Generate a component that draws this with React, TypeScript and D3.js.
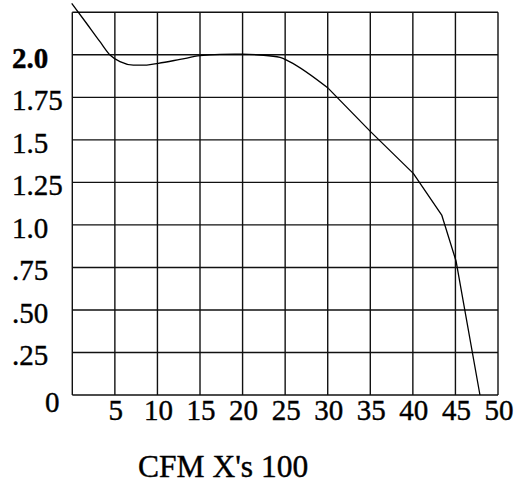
import React from "react";
import * as d3 from "d3";

const curveLeftX = [-0.07, 1.6, 3.25, 4.43, 5.6, 7.17, 8.74, 10.1, 12.65, 15.0, 17.35, 20, 22.05, 24.4, 25.5, 30.07];
const curveLeftY = [2.303, 2.19, 2.077, 1.999, 1.96, 1.94, 1.94, 1.95, 1.973, 1.995, 2.003, 2.004, 1.999, 1.985, 1.96, 1.803];
const curveRightX = [30.07, 35, 40.05, 43.39, 45.07, 47.88];
const curveRightY = [1.803, 1.55, 1.303, 1.058, 0.788, 0];

const xTicks = [5, 10, 15, 20, 25, 30, 35, 40, 45, 50];
const yTickValues = [2.0, 1.75, 1.5, 1.25, 1.0, 0.75, 0.5, 0.25];
const yTickLabels = ["2.0", "1.75", "1.5", "1.25", "1.0", ".75", ".50", ".25"];
const zeroLabel = "0";
const xGrid = [0, 5, 10, 15, 20, 25, 30, 35, 40, 45, 50];
const yGrid = [0, 0.25, 0.5, 0.75, 1.0, 1.25, 1.5, 1.75, 2.0, 2.25];
const title = "CFM X's 100";

export default function App() {
  const W = 519, H = 486;
  const x = d3.scaleLinear().domain([0, 50]).range([72.3, 498]);
  const y = d3.scaleLinear().domain([0, 2.25]).range([395, 12.3]);
  const left: [number, number][] = curveLeftX.map((v, i) => [v, curveLeftY[i]]);
  const right: [number, number][] = curveRightX.map((v, i) => [v, curveRightY[i]]);
  const smooth = d3
    .line<[number, number]>()
    .x((d) => x(d[0]))
    .y((d) => y(d[1]))
    .curve(d3.curveMonotoneX);
  const straight = d3
    .line<[number, number]>()
    .x((d) => x(d[0]))
    .y((d) => y(d[1]))
    .curve(d3.curveLinear);
  const font = "'Liberation Serif', 'Times New Roman', serif";
  return (
    <svg
      width={W}
      height={H}
      style={{ position: "absolute", left: 0, top: 0, background: "#fff" }}
    >
      <rect x={0} y={0} width={W} height={H} fill="#fff" />
      <g stroke="#111" strokeWidth={1.4} fill="none">
        {xGrid.map((v) => (
          <line key={"vx" + v} x1={x(v)} x2={x(v)} y1={y(2.25)} y2={y(0)} />
        ))}
        {yGrid.map((v) => (
          <line key={"hy" + v} x1={x(0)} x2={x(50)} y1={y(v)} y2={y(v)} />
        ))}
      </g>
      <path d={smooth(left) || ""} fill="none" stroke="#000" strokeWidth={1.3} />
      <path d={straight(right) || ""} fill="none" stroke="#000" strokeWidth={1.3} strokeLinejoin="round" />
      <g fontFamily={font} fontSize={29} fill="#000" stroke="#000" strokeWidth={0.4}>
        {yTickValues.map((v, i) => (
          <text
            key={"yl" + v}
            x={12}
            y={y(v) + 13}
            fontWeight={i === 0 ? 700 : 400}
          >
            {yTickLabels[i]}
          </text>
        ))}
        <text x={45} y={y(0) + 17}>
          {zeroLabel}
        </text>
        {xTicks.map((v) => (
          <text key={"xl" + v} x={x(v) + 1} y={420} textAnchor="middle">
            {v}
          </text>
        ))}
      </g>
      <text x={138} y={477} fontFamily={font} fontSize={31.5} fill="#000" stroke="#000" strokeWidth={0.4}>
        {title}
      </text>
    </svg>
  );
}
